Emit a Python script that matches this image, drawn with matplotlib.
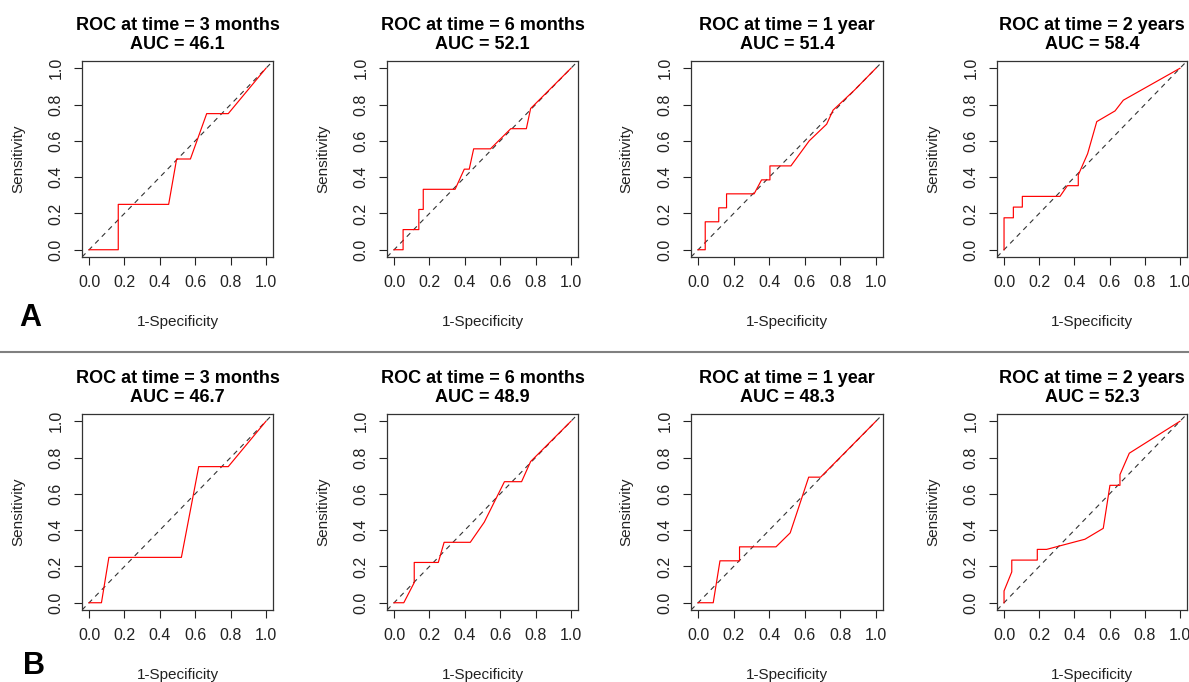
import numpy as np
import matplotlib as mpl
mpl.use('Agg')
import matplotlib.pyplot as plt
from matplotlib.lines import Line2D

#
#--- panel titles and AUC values
#
times    = ['3 months', '6 months', '1 year', '2 years']
auc_a    = [46.1, 52.1, 51.4, 58.4]
auc_b    = [46.7, 48.9, 48.3, 52.3]

#
#--- ROC curves (1-specificity, sensitivity), row A
#
a1_fpr = [0, 0.165, 0.165, 0.45, 0.495, 0.573, 0.665, 0.787, 1]
a1_tpr = [0, 0, 0.25, 0.25, 0.5, 0.5, 0.75, 0.75, 1]

a2_fpr = [0, 0.051, 0.051, 0.14, 0.14, 0.165, 0.165, 0.345, 0.397, 0.425, 0.45, 0.545, 0.66, 0.748, 0.772, 1]
a2_tpr = [0, 0, 0.111, 0.111, 0.222, 0.222, 0.333, 0.333, 0.444, 0.444, 0.556, 0.556, 0.667, 0.667, 0.778, 1]

a3_fpr = [0, 0.04, 0.04, 0.116, 0.116, 0.16, 0.16, 0.315, 0.357, 0.404, 0.404, 0.522, 0.625, 0.723, 0.759, 0.88, 1]
a3_tpr = [0, 0, 0.154, 0.154, 0.231, 0.231, 0.308, 0.308, 0.385, 0.385, 0.462, 0.462, 0.6, 0.692, 0.769, 0.88, 1]

a4_fpr = [0, 0, 0.053, 0.053, 0.104, 0.104, 0.318, 0.36, 0.422, 0.422, 0.475, 0.527, 0.631, 0.678, 1]
a4_tpr = [0, 0.176, 0.176, 0.235, 0.235, 0.294, 0.294, 0.353, 0.353, 0.412, 0.529, 0.706, 0.765, 0.824, 1]

#
#--- ROC curves, row B
#
b1_fpr = [0, 0.07, 0.112, 0.522, 0.62, 0.787, 1]
b1_tpr = [0, 0, 0.25, 0.25, 0.75, 0.75, 1]

b2_fpr = [0, 0.055, 0.114, 0.114, 0.25, 0.283, 0.431, 0.51, 0.624, 0.721, 0.772, 1]
b2_tpr = [0, 0, 0.111, 0.222, 0.222, 0.333, 0.333, 0.444, 0.667, 0.667, 0.778, 1]

b3_fpr = [0, 0.085, 0.123, 0.233, 0.233, 0.438, 0.518, 0.622, 0.689, 1]
b3_tpr = [0, 0, 0.231, 0.231, 0.308, 0.308, 0.385, 0.692, 0.692, 1]

b4_fpr = [0, 0, 0.044, 0.044, 0.189, 0.189, 0.242, 0.46, 0.564, 0.602, 0.659, 0.659, 0.712, 1]
b4_tpr = [0, 0.065, 0.17, 0.235, 0.235, 0.294, 0.294, 0.35, 0.41, 0.647, 0.647, 0.706, 0.824, 1]

tick_vals   = [0.0, 0.2, 0.4, 0.6, 0.8, 1.0]
tick_labels = ['0.0', '0.2', '0.4', '0.6', '0.8', '1.0']

W = 1189.0
H = 682.0

#-------------------------------------------------------------------------------
#-- plot_panel: draw one ROC panel                                            --
#-------------------------------------------------------------------------------

def plot_panel(fig, left, top, right, bottom, fpr, tpr, title):
    """
    draw one ROC panel; box position given in pixels (from top-left)
    """
    ax = fig.add_axes([left / W, 1 - bottom / H, (right - left) / W, (bottom - top) / H])

    ax.plot([-0.04, 1.04], [-0.04, 1.04], color='#333333', lw=0.8, ls=(0, (4.5, 4)))
    ax.plot(fpr, tpr, color='red', lw=0.85)

    ax.set_xlim(-0.04, 1.04)
    ax.set_ylim(-0.04, 1.04)

    ax.set_xticks(tick_vals)
    ax.set_xticklabels(tick_labels)
    ax.set_yticks(tick_vals)
    ax.set_yticklabels(tick_labels, rotation=90, va='center')
    ax.tick_params(direction='out', length=6, width=0.8, labelsize=11.5, pad=7.2, colors='#222222')

    for side in ['top', 'bottom', 'left', 'right']:
        ax.spines[side].set_linewidth(0.9)
        ax.spines[side].set_color('#333333')

    ax.text(0.5, 1.135, title, transform=ax.transAxes, ha='center', va='center',
            fontsize=13, fontweight='bold', linespacing=1.15)
    ax.text(0.5, -0.33, '1-Specificity', transform=ax.transAxes, ha='center', va='center',
            fontsize=11, color='#222222')
    ax.text(-0.335, 0.5, 'Sensitivity', transform=ax.transAxes, ha='center', va='center',
            fontsize=11, rotation=90, color='#222222')
    return ax


plt.rcParams['font.family'] = ['Liberation Sans', 'DejaVu Sans']

fig = plt.figure(figsize=(W / 100, H / 100), dpi=100)

cols = [(82, 273), (387, 578), (691, 883), (997, 1187)]

rows_a = [(a1_fpr, a1_tpr), (a2_fpr, a2_tpr), (a3_fpr, a3_tpr), (a4_fpr, a4_tpr)]
rows_b = [(b1_fpr, b1_tpr), (b2_fpr, b2_tpr), (b3_fpr, b3_tpr), (b4_fpr, b4_tpr)]

for i in range(4):
    title = 'ROC at time = ' + times[i] + '\nAUC = ' + str(auc_a[i])
    plot_panel(fig, cols[i][0], 61, cols[i][1], 257, rows_a[i][0], rows_a[i][1], title)

    title = 'ROC at time = ' + times[i] + '\nAUC = ' + str(auc_b[i])
    plot_panel(fig, cols[i][0], 414, cols[i][1], 610, rows_b[i][0], rows_b[i][1], title)

#
#--- separator and panel letters
#
fig.add_artist(Line2D([0, 1], [1 - 352 / H, 1 - 352 / H], color='#808080', lw=1.5))

fig.text(30 / W, 1 - 318 / H, 'A', fontsize=22, fontweight='bold', ha='center', va='center')
fig.text(34 / W, 1 - 666 / H, 'B', fontsize=22, fontweight='bold', ha='center', va='center')

plt.savefig('out.png', dpi=100)
plt.close('all')
